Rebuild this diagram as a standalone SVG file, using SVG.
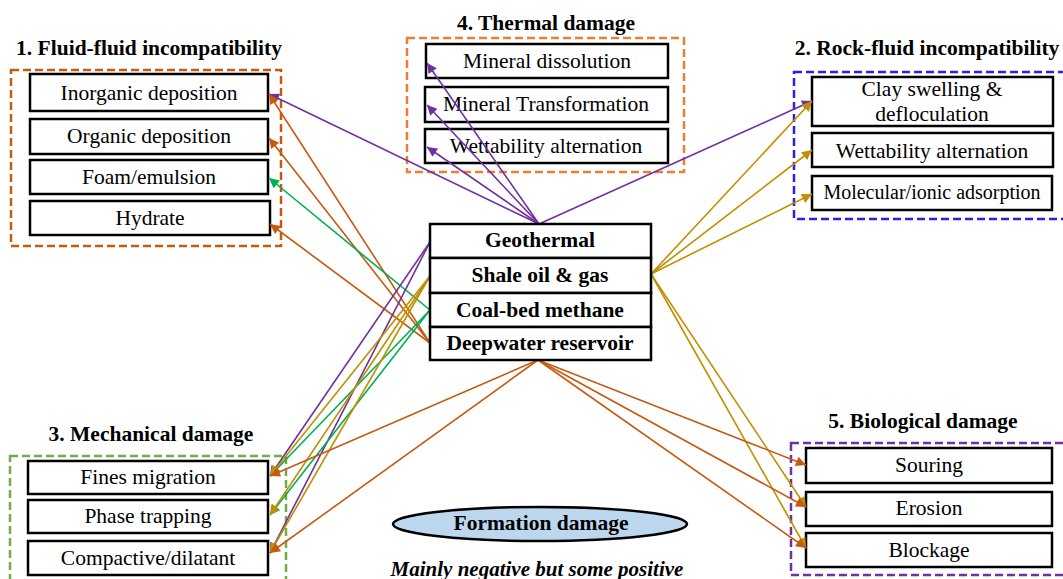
<svg xmlns="http://www.w3.org/2000/svg" width="1063" height="579" viewBox="0 0 1063 579">
<style>
.bg{fill:#ffffff}
.box{fill:#ffffff;stroke:#000000;stroke-width:2.5}
.grp{fill:none;stroke-width:2.5;stroke-dasharray:8 4}
.t{font-family:'Liberation Serif';font-size:21.5px;fill:#000;text-anchor:middle}
.ts{font-size:20px}
.tb{font-family:'Liberation Serif';font-size:21.5px;font-weight:bold;fill:#000;text-anchor:middle}
.title{font-family:'Liberation Serif';font-size:21.5px;font-weight:bold;fill:#000;text-anchor:middle}
.it{font-family:'Liberation Serif';font-size:21px;font-weight:bold;font-style:italic;fill:#000;text-anchor:middle}
.c{fill:none;stroke-width:1.6}
.pu{stroke:#7030A0}
.or{stroke:#C55A11}
.go{stroke:#BF9000}
.gr{stroke:#00B050}
</style>
<defs>
<marker id="aPu" viewBox="0 0 10 10" refX="10" refY="5" markerWidth="13" markerHeight="10" markerUnits="userSpaceOnUse" orient="auto"><path d="M0,0 L10,5 L0,10 z" fill="#7030A0"/></marker>
<marker id="aOr" viewBox="0 0 10 10" refX="10" refY="5" markerWidth="13" markerHeight="10" markerUnits="userSpaceOnUse" orient="auto"><path d="M0,0 L10,5 L0,10 z" fill="#C55A11"/></marker>
<marker id="aGo" viewBox="0 0 10 10" refX="10" refY="5" markerWidth="13" markerHeight="10" markerUnits="userSpaceOnUse" orient="auto"><path d="M0,0 L10,5 L0,10 z" fill="#BF9000"/></marker>
<marker id="aGr" viewBox="0 0 10 10" refX="10" refY="5" markerWidth="13" markerHeight="10" markerUnits="userSpaceOnUse" orient="auto"><path d="M0,0 L10,5 L0,10 z" fill="#00B050"/></marker>
</defs>
<rect class="bg" x="0" y="0" width="1063" height="579"/>

<g id="group-fluid-fluid">
<text class="title" x="149" y="55">1. Fluid-fluid incompatibility</text>
<rect class="grp" x="11" y="70" width="270" height="176" stroke="#C55A11"/>
<g id="n-inorganic"><rect class="box" x="30" y="74" width="238" height="37"/><text class="t" x="149" y="100">Inorganic deposition</text></g>
<g id="n-organic"><rect class="box" x="30" y="119" width="238" height="35"/><text class="t" x="149" y="143">Organic deposition</text></g>
<g id="n-foam"><rect class="box" x="30" y="160" width="238" height="34"/><text class="t" x="149" y="184">Foam/emulsion</text></g>
<g id="n-hydrate"><rect class="box" x="30" y="201" width="240" height="34"/><text class="t" x="150" y="225">Hydrate</text></g>
</g>

<g id="group-thermal">
<text class="title" x="546" y="30">4. Thermal damage</text>
<rect class="grp" x="407" y="38" width="277" height="134" stroke="#ED7D31"/>
<g id="n-dissolution"><rect class="box" x="426" y="44" width="242" height="34"/><text class="t" x="547" y="68">Mineral dissolution</text></g>
<g id="n-transformation"><rect class="box" x="425" y="87" width="243" height="35"/><text class="t" x="546" y="111">Mineral Transformation</text></g>
<g id="n-wett-thermal"><rect class="box" x="425" y="129" width="243" height="34"/><text class="t" x="546" y="153">Wettability alternation</text></g>
</g>

<g id="group-rock-fluid">
<text class="title" x="927" y="55">2. Rock-fluid incompatibility</text>
<rect class="grp" x="794" y="72" width="280" height="147" stroke="#2A1FE6"/>
<g id="n-clay"><rect class="box" x="812" y="77" width="241" height="49"/><text class="t" x="932" y="96">Clay swelling &amp;</text><text class="t" x="932" y="121">defloculation</text></g>
<g id="n-wett-rock"><rect class="box" x="812" y="133" width="241" height="34"/><text class="t" x="932" y="158">Wettability alternation</text></g>
<g id="n-molecular"><rect class="box" x="812" y="176" width="240" height="34"/><text class="t ts" x="932" y="199">Molecular/ionic adsorption</text></g>
</g>

<g id="group-mechanical">
<text class="title" x="151" y="441">3. Mechanical damage</text>
<rect class="grp" x="10" y="456" width="276" height="135" stroke="#70AD47"/>
<g id="n-fines"><rect class="box" x="28" y="461" width="240" height="33"/><text class="t" x="148" y="484">Fines migration</text></g>
<g id="n-phase"><rect class="box" x="28" y="500" width="240" height="33"/><text class="t" x="148" y="523">Phase trapping</text></g>
<g id="n-compactive"><rect class="box" x="28" y="541" width="240" height="34"/><text class="t" x="148" y="565">Compactive/dilatant</text></g>
</g>

<g id="group-biological">
<text class="title" x="923" y="428">5. Biological damage</text>
<rect class="grp" x="791" y="443" width="280" height="132" stroke="#7030A0"/>
<g id="n-souring"><rect class="box" x="806" y="448" width="246" height="35"/><text class="t" x="929" y="472">Souring</text></g>
<g id="n-erosion"><rect class="box" x="806" y="492" width="246" height="34"/><text class="t" x="929" y="515">Erosion</text></g>
<g id="n-blockage"><rect class="box" x="806" y="533" width="246" height="34"/><text class="t" x="929" y="557">Blockage</text></g>
</g>

<g id="connectors">
<line class="c pu" x1="539" y1="224" x2="269" y2="94" marker-end="url(#aPu)"/>
<line class="c pu" x1="539" y1="224" x2="427" y2="63" marker-end="url(#aPu)"/>
<line class="c pu" x1="539" y1="224" x2="427" y2="105" marker-end="url(#aPu)"/>
<line class="c pu" x1="539" y1="224" x2="427" y2="147" marker-end="url(#aPu)"/>
<line class="c pu" x1="539" y1="224" x2="812" y2="101" marker-end="url(#aPu)"/>
<line class="c go" x1="651" y1="274" x2="812" y2="101" marker-end="url(#aGo)"/>
<line class="c go" x1="651" y1="274" x2="812" y2="150" marker-end="url(#aGo)"/>
<line class="c go" x1="651" y1="274" x2="812" y2="194" marker-end="url(#aGo)"/>
<line class="c go" x1="651" y1="274" x2="806" y2="507" marker-end="url(#aGo)"/>
<line class="c go" x1="651" y1="274" x2="806" y2="548" marker-end="url(#aGo)"/>
<line class="c or" x1="430" y1="343" x2="269" y2="94" marker-end="url(#aOr)"/>
<line class="c or" x1="430" y1="343" x2="269" y2="138" marker-end="url(#aOr)"/>
<line class="c or" x1="430" y1="343" x2="270" y2="224" marker-end="url(#aOr)"/>
<line class="c gr" x1="430" y1="310" x2="269" y2="178" marker-end="url(#aGr)"/>
<line class="c pu" x1="430" y1="242" x2="270" y2="476" marker-end="url(#aPu)"/>
<line class="c pu" x1="430" y1="242" x2="270" y2="553" marker-end="url(#aPu)"/>
<line class="c gr" x1="430" y1="310" x2="270" y2="476" marker-end="url(#aGr)"/>
<line class="c gr" x1="430" y1="310" x2="270" y2="515" marker-end="url(#aGr)"/>
<line class="c go" x1="430" y1="276" x2="270" y2="476" marker-end="url(#aGo)"/>
<line class="c go" x1="430" y1="276" x2="270" y2="515" marker-end="url(#aGo)"/>
<line class="c go" x1="430" y1="276" x2="270" y2="553" marker-end="url(#aGo)"/>
<line class="c or" x1="538" y1="360" x2="270" y2="476" marker-end="url(#aOr)"/>
<line class="c or" x1="538" y1="360" x2="270" y2="553" marker-end="url(#aOr)"/>
<line class="c or" x1="538" y1="360" x2="806" y2="465" marker-end="url(#aOr)"/>
<line class="c or" x1="538" y1="360" x2="806" y2="507" marker-end="url(#aOr)"/>
<line class="c or" x1="538" y1="360" x2="806" y2="548" marker-end="url(#aOr)"/>
</g>

<g id="n-center">
<g id="n-geothermal"><rect class="box" x="430" y="224" width="221" height="34"/><text class="tb" x="540" y="247">Geothermal</text></g>
<g id="n-shale"><rect class="box" x="430" y="258" width="221" height="35"/><text class="tb" x="540" y="282">Shale oil &amp; gas</text></g>
<g id="n-coalbed"><rect class="box" x="430" y="293" width="221" height="34"/><text class="tb" x="540" y="317">Coal-bed methane</text></g>
<g id="n-deepwater"><rect class="box" x="430" y="327" width="221" height="33"/><text class="tb" x="540" y="350">Deepwater reservoir</text></g>
</g>

<g id="n-formation">
<ellipse cx="540" cy="524" rx="147" ry="17" fill="#BDD7EE" stroke="#000" stroke-width="2.5"/>
<text class="tb" x="541" y="530">Formation damage</text>
<text class="it" x="537" y="576">Mainly negative but some positive</text>
</g>
</svg>
